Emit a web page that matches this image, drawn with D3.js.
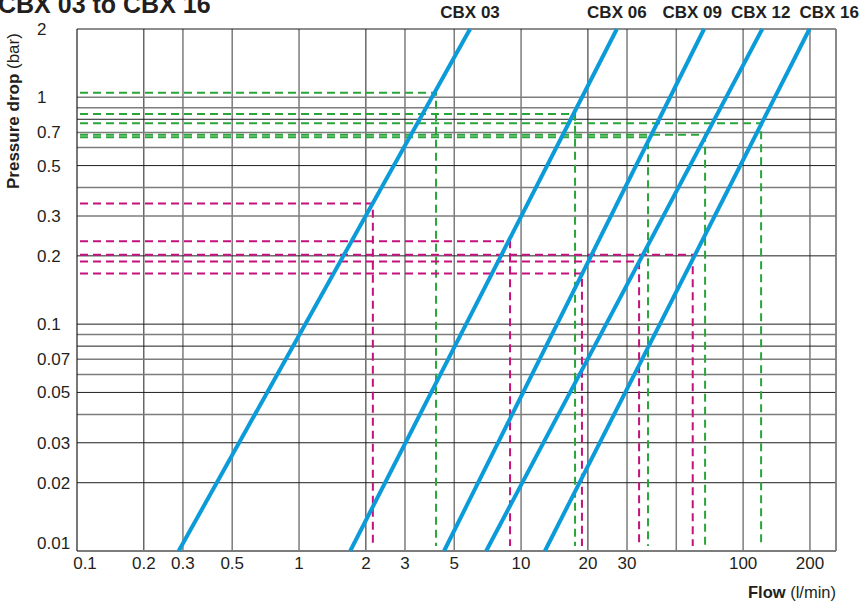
<!DOCTYPE html>
<html>
<head>
<meta charset="utf-8">
<script src="https://cdn.jsdelivr.net/npm/d3@7"></script>
<style>
  body { margin: 0; background: #fff; }
  text { font-family: "Liberation Sans", Arial, Helvetica, sans-serif; fill: #231f20; }
</style>
</head>
<body>
<svg id="graph" width="860" height="602"></svg>
<script>
//======================= DATA =========================
const models = ["CBX 03", "CBX 06", "CBX 09", "CBX 12", "CBX 16"];
// each curve read as [flow l/min, pressure bar] at the bottom and top of the plot
const curveStart = [[0.287, 0.01], [1.70, 0.01], [4.50, 0.01], [6.96, 0.01], [12.8, 0.01]];
const curveEnd = [[5.89, 2], [27.0, 2], [66.7, 2], [122, 2], [199, 2]];
// green dashed reading lines (flow, pressure)
const greenFlow = [4.14, 17.5, 37.3, 67.4, 120.5];
const greenDrop = [1.046, 0.845, 0.667, 0.683, 0.768];
// magenta dashed reading lines (flow, pressure)
const pinkFlow = [2.15, 8.92, 18.8, 34.0, 59.3];
const pinkDrop = [0.340, 0.232, 0.167, 0.189, 0.202];

const xGrid = [0.2, 0.3, 0.5, 1, 2, 3, 5, 10, 20, 30, 50, 100, 200];
const xGridDark = [0.2, 2, 20];
const yGrid = [0.02, 0.03, 0.04, 0.05, 0.06, 0.07, 0.08, 0.09, 0.1, 0.2, 0.3, 0.4, 0.5, 0.6, 0.7, 0.8, 0.9, 1];
const yGridDark = [0.02, 0.03, 0.05, 0.08, 0.1, 0.2, 0.5, 0.8];
const xTicks = [0.1, 0.2, 0.3, 0.5, 1, 2, 3, 5, 10, 20, 30, 100, 200];
const yTicks = [2, 1, 0.7, 0.5, 0.3, 0.2, 0.1, 0.07, 0.05, 0.03, 0.02, 0.01];

//========================= SET UP SVG ============================
const svg = d3.select("#graph"),
  W = +svg.attr("width"),
  plotL = 77, plotR = 836, plotT = 29, plotB = 551;

const x = d3.scaleLog().domain([0.1, 262]).range([plotL, plotR]),
  y = d3.scaleLog().domain([0.01, 2]).range([plotB, plotT]);

const blue = "#0b9bd9", green = "#2aa53a", pink = "#c4117c";
const gray = "#7c7c7c", dark = "#1d1d1d";

//========================= GRID ============================
const grid = svg.append("g");
grid.selectAll(".vgrid")
  .data(xGrid)
  .enter().append("line")
  .attr("x1", d => x(d)).attr("x2", d => x(d))
  .attr("y1", plotT).attr("y2", plotB)
  .attr("stroke", d => xGridDark.includes(d) ? dark : gray)
  .attr("stroke-width", d => xGridDark.includes(d) ? 1 : 1.5);

grid.selectAll(".hgrid")
  .data(yGrid)
  .enter().append("line")
  .attr("x1", plotL).attr("x2", plotR)
  .attr("y1", d => y(d)).attr("y2", d => y(d))
  .attr("stroke", d => yGridDark.includes(d) ? dark : gray)
  .attr("stroke-width", d => yGridDark.includes(d) ? 1 : 1.5);

// frame
grid.append("line").attr("x1", plotL).attr("x2", plotR).attr("y1", plotT).attr("y2", plotT)
  .attr("stroke", dark).attr("stroke-width", 1.2);
grid.append("line").attr("x1", plotL).attr("x2", plotR).attr("y1", plotB).attr("y2", plotB)
  .attr("stroke", gray).attr("stroke-width", 1.8);
grid.append("line").attr("x1", plotL).attr("x2", plotL).attr("y1", plotT).attr("y2", plotB)
  .attr("stroke", dark).attr("stroke-width", 1.2);
grid.append("line").attr("x1", plotR).attr("x2", plotR).attr("y1", plotT).attr("y2", plotB)
  .attr("stroke", gray).attr("stroke-width", 1.8);

//========================= DASHED READING LINES ============================
function readings(flows, drops, color) {
  const g = svg.append("g")
    .attr("stroke", color)
    .attr("stroke-width", 2)
    .attr("stroke-dasharray", "8,5")
    .attr("fill", "none");
  flows.forEach(function(f, i) {
    const px = x(f), py = y(drops[i]);
    g.append("path")
      .attr("d", "M" + (plotL + 3) + "," + py + "H" + px + "V" + (plotB - 5));
  });
}
readings(greenFlow, greenDrop, green);
readings(pinkFlow, pinkDrop, pink);

//========================= CURVES ============================
const line = d3.line().x(d => x(d[0])).y(d => y(d[1]));
svg.append("g").selectAll(".curve")
  .data(models)
  .enter().append("path")
  .attr("d", (d, i) => line([curveStart[i], curveEnd[i]]))
  .attr("stroke", blue)
  .attr("stroke-width", 4)
  .attr("fill", "none");

//========================= CURVE LABELS ============================
const labels = svg.append("g").selectAll(".legend")
  .data(models)
  .enter().append("text")
  .attr("y", 18)
  .attr("font-size", 17)
  .attr("font-weight", "bold")
  .attr("text-anchor", "middle")
  .text(d => d);

// place labels over the top of each curve, pushing left where they would collide
const widths = labels.nodes().map(n => n.getComputedTextLength());
const centers = models.map((d, i) => x(curveEnd[i][0]));
let last = models.length - 1;
centers[last] = W - 1 - widths[last] / 2;
for (let i = last - 1; i >= 0; i--) {
  const maxRight = centers[i + 1] - widths[i + 1] / 2 - 9;
  if (centers[i] + widths[i] / 2 > maxRight) centers[i] = maxRight - widths[i] / 2;
}
labels.attr("x", (d, i) => centers[i]);

//========================= AXES ============================
svg.append("g").selectAll(".ytick")
  .data(yTicks)
  .enter().append("text")
  .attr("x", 37)
  .attr("y", d => Math.min(y(d), 543) + 6)
  .attr("font-size", 17)
  .text(d => String(d));

svg.append("g").selectAll(".xtick")
  .data(xTicks)
  .enter().append("text")
  .attr("x", d => Math.max(x(d), 85))
  .attr("y", plotB + 18)
  .attr("font-size", 17)
  .attr("text-anchor", "middle")
  .text(d => String(d));

// axis titles
const xt = svg.append("text")
  .attr("x", plotR)
  .attr("y", 598)
  .attr("font-size", 16.5)
  .attr("text-anchor", "end");
xt.append("tspan").attr("font-weight", "bold").text("Flow");
xt.append("tspan").text(" (l/min)");

const yt = svg.append("text")
  .attr("transform", "translate(19,189) rotate(-90)")
  .attr("font-size", 17)
  .attr("text-anchor", "start");
yt.append("tspan").attr("font-weight", "bold").text("Pressure drop");
yt.append("tspan").text(" (bar)");

// chart title, cut off by the top of the image
svg.append("text")
  .attr("x", -2)
  .attr("y", 13)
  .attr("font-size", 25)
  .attr("font-weight", "bold")
  .text("CBX 03 to CBX 16");
</script>
</body>
</html>
